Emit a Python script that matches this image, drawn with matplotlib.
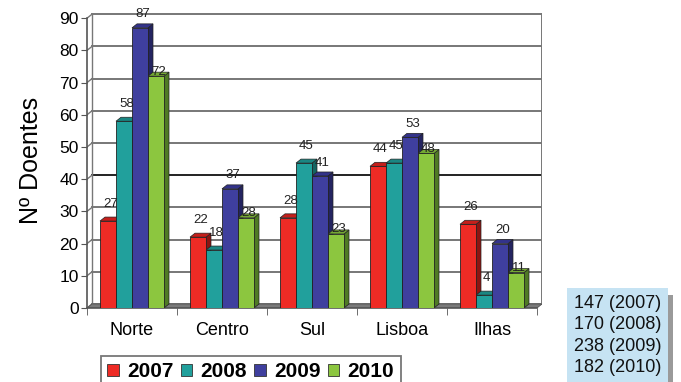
import matplotlib

matplotlib.use("Agg")
import matplotlib.pyplot as plt
from matplotlib.patches import Patch, Polygon, Rectangle

plt.rcParams["font.family"] = ["Liberation Sans", "DejaVu Sans"]

# data
regions = ["Norte", "Centro", "Sul", "Lisboa", "Ilhas"]
years = ["2007", "2008", "2009", "2010"]
values = {
    "2007": [27, 22, 28, 44, 26],
    "2008": [58, 18, 45, 45, 4],
    "2009": [87, 37, 41, 53, 20],
    "2010": [72, 28, 23, 48, 11],
}
totals = ["147 (2007)", "170 (2008)", "238 (2009)", "182 (2010)"]

front_colors = ["#ee2b25", "#21a09c", "#3f3f9e", "#8cc63f"]
side_colors = ["#8c1512", "#146462", "#242460", "#4f7a24"]
top_colors = ["#c41f1b", "#1a8682", "#33338a", "#74a833"]
label_offsets = [5, 5, 2.5, -4]  # points above bar top, per series

W, H = 681, 382
fig = plt.figure(figsize=(W / 100, H / 100), dpi=100)

px_per_unit = 3.22
dx = 5 / 90.0
dy = 4 / px_per_unit
ymax = 90 + 1.8
ax = fig.add_axes([87 / W, 1 - 308 / H, 455 / W, ymax * px_per_unit / H])
ax.set_xlim(-0.5, 4.5 + dx)
ax.set_ylim(0, ymax)

# walls, floor and gridlines
for v in range(0, 100, 10):
    color = "#222222" if v == 40 else "#777777"
    ax.plot([-0.5 + dx, 4.5 + dx], [v + dy, v + dy], color=color, lw=1.4, zorder=1)
    ax.plot([-0.5, -0.5 + dx], [v, v + dy], color="#777777", lw=1.0, zorder=1)
ax.plot([4.5 + dx, 4.5 + dx], [dy, 90 + dy], color="#777777", lw=1.4, zorder=1)
ax.plot([-0.5 + dx, -0.5 + dx], [dy, 90 + dy], color="#777777", lw=1.0, zorder=1)
ax.add_patch(Polygon([(-0.5, 0), (4.5, 0), (4.5 + dx, dy), (-0.5 + dx, dy)],
                     closed=True, facecolor="#7a7a7a", edgecolor="#555555", lw=0.6, zorder=1.5))

width = 16 / 90.0
for j, year in enumerate(years):
    xs = [i + (j - 1.5) * width for i in range(len(regions))]
    bars = ax.bar(xs, values[year], width=width, color=front_colors[j],
                  edgecolor="#222222", linewidth=0.6, zorder=3)
    for bar, h in zip(bars, values[year]):
        x0 = bar.get_x()
        x1 = x0 + width
        ax.add_patch(Polygon([(x1, 0), (x1 + dx, dy), (x1 + dx, h + dy), (x1, h)],
                             closed=True, facecolor=side_colors[j], edgecolor="#222222",
                             lw=0.5, zorder=2.9))
        ax.add_patch(Polygon([(x0, h), (x1, h), (x1 + dx, h + dy), (x0 + dx, h + dy)],
                             closed=True, facecolor=top_colors[j], edgecolor="#222222",
                             lw=0.5, zorder=2.9))
        ax.annotate(str(h), (x0 + width / 2 + dx / 2, h + dy), xytext=(0, label_offsets[j]),
                    textcoords="offset points", ha="center", va="bottom",
                    fontsize=9.5, color="#222222", zorder=5)

for side in ["top", "right", "bottom"]:
    ax.spines[side].set_visible(False)
ax.spines["left"].set_bounds(0, 90)
ax.spines["left"].set_color("#555555")
ax.spines["left"].set_linewidth(1.2)
ax.plot([-0.5, 4.5], [0, 0], color="#555555", lw=1.2, zorder=2, clip_on=False)

ax.set_yticks(range(0, 100, 10))
ax.tick_params(axis="y", labelsize=12.5, length=4, color="#555555", pad=2)
ax.set_xticks(range(len(regions)), labels=regions)
ax.set_xticks([i - 0.5 for i in range(len(regions) + 1)], minor=True)
ax.tick_params(axis="x", which="major", length=0, labelsize=13, pad=10)
ax.tick_params(axis="x", which="minor", length=5, color="#555555")
ax.set_ylabel("Nº Doentes", fontsize=18, labelpad=12)

# legend
handles = [Patch(facecolor=c, edgecolor="#333333", linewidth=0.6) for c in front_colors]
leg = fig.legend(handles, years, loc="upper left", bbox_to_anchor=(101 / W, 1 - 356 / H),
                 ncol=4, frameon=True, fancybox=False, edgecolor="#555555",
                 prop={"weight": "bold", "size": 15}, handlelength=0.55, handleheight=0.55,
                 handletextpad=0.4, columnspacing=0.35, borderpad=0.3, borderaxespad=0)
leg.get_frame().set_linewidth(1.3)

# totals box
fig.patches.append(Rectangle((668 / W, 0), 5 / W, 1 - 295 / H, transform=fig.transFigure,
                             facecolor="#9a9a9a", edgecolor="none", zorder=1))
fig.patches.append(Rectangle((567 / W, 0), 101 / W, 1 - 288 / H, transform=fig.transFigure,
                             facecolor="#c6e3f3", edgecolor="none", zorder=2))
for k, line in enumerate(totals):
    fig.text(574 / W, 1 - (303 + 21.6 * k) / H, line, fontsize=13, va="center",
             ha="left", color="#111111", zorder=3)

fig.savefig("out.png", dpi=100)
plt.close(fig)
